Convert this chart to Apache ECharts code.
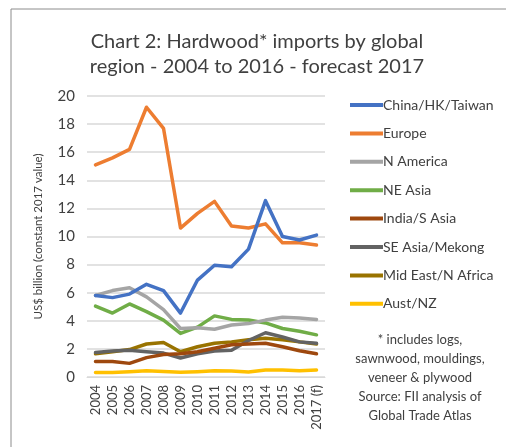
<!DOCTYPE html>
<html><head><meta charset="utf-8">
<script src="https://cdn.jsdelivr.net/npm/echarts@6/dist/echarts.min.js"></script>
<style>html,body{margin:0;padding:0;background:#fff}#c{width:506px;height:447px}</style>
</head><body><div id="c"></div>
<script>
var years = ['2004','2005','2006','2007','2008','2009','2010','2011','2012','2013','2014','2015','2016','2017 (f)'];
var china    = [5.8,5.65,5.9,6.6,6.15,4.55,6.9,7.95,7.85,9.1,12.55,10.0,9.75,10.1];
var europe   = [15.1,15.6,16.2,19.2,17.7,10.6,11.65,12.5,10.75,10.6,10.9,9.55,9.55,9.4];
var namerica = [5.8,6.15,6.35,5.7,4.8,3.45,3.5,3.4,3.7,3.8,4.05,4.25,4.2,4.1];
var neasia   = [5.05,4.55,5.2,4.65,4.05,3.1,3.55,4.35,4.1,4.05,3.85,3.45,3.25,3.0];
var india    = [1.1,1.1,0.97,1.38,1.6,1.65,1.8,2.05,2.3,2.35,2.4,2.15,1.87,1.65];
var seasia   = [1.75,1.85,1.9,1.8,1.7,1.35,1.65,1.85,1.9,2.6,3.15,2.85,2.5,2.4];
var mideast  = [1.65,1.8,1.95,2.35,2.45,1.8,2.15,2.4,2.5,2.65,2.75,2.65,2.5,2.35];
var austnz   = [0.32,0.32,0.38,0.45,0.4,0.33,0.38,0.45,0.42,0.35,0.5,0.5,0.45,0.5];
var yTicks = [0,2,4,6,8,10,12,14,16,18,20];
var seriesNames = ['China/HK/Taiwan','Europe','N America','NE Asia','India/S Asia','SE Asia/Mekong','Mid East/N Africa','Aust/NZ'];
var seriesData = [china,europe,namerica,neasia,india,seasia,mideast,austnz];
var colors = ['#4472C4','#ED7D31','#A5A5A5','#70AD47','#9E480E','#636363','#997300','#FFC000'];
var noteLines = ['* includes logs,','sawnwood, mouldings,','veneer & plywood','Source: FII analysis of','Global Trade Atlas'];
var FONT = 'Lato, "Liberation Sans", sans-serif';

var chart = echarts.init(document.getElementById('c'));
chart.setOption({
  animation:false,
  color: colors,
  textStyle:{fontFamily:FONT},
  grid:{left:87, right:181, top:96, bottom:70},
  xAxis:{type:'category', data:years, boundaryGap:true,
    axisLine:{lineStyle:{color:'#d9d9d9', width:1}}, axisTick:{show:false},
    axisLabel:{rotate:90, fontSize:13, color:'#404040', margin:8, interval:0, fontFamily:FONT}},
  yAxis:{type:'value', min:yTicks[0], max:yTicks[yTicks.length-1], interval:2,
    name:'US$ billion (constant 2017 value)', nameLocation:'middle', nameRotate:90, nameGap:43,
    nameTextStyle:{fontSize:11.5, color:'#404040', fontFamily:FONT},
    axisLine:{show:false}, axisTick:{show:false},
    splitLine:{lineStyle:{color:'#d9d9d9', width:1.5}},
    axisLabel:{fontSize:15, color:'#404040', margin:12, fontFamily:FONT}},
  legend:{orient:'vertical', left:345, top:92, itemWidth:33, itemHeight:4, itemGap:12.4,
    icon:'rect', data:seriesNames,
    textStyle:{fontSize:14, color:'#404040', lineHeight:16, padding:[0,0,0,-5], fontFamily:FONT}},
  series: seriesNames.map(function(n,i){
    return {name:n, type:'line', data:seriesData[i], symbol:'none', z: 10-i,
      lineStyle:{width:3.5, color:colors[i], cap:'round', join:'round'}};
  }),
  graphic:[
    {type:'rect', shape:{x:11, y:9, width:600, height:600}, style:{fill:'none', stroke:'#8c8c8c', lineWidth:1}, silent:true},
    {type:'text', x:257, y:42, style:{text:'Chart 2: Hardwood* imports by global', font:'20px '+FONT, fill:'#404040', textAlign:'center', textVerticalAlign:'middle'}},
    {type:'text', x:257, y:67, style:{text:'region - 2004 to 2016 - forecast 2017', font:'20px '+FONT, fill:'#404040', textAlign:'center', textVerticalAlign:'middle'}},
    {type:'text', x:420, y:330, style:{text:noteLines.join('\n'), font:'13px '+FONT, lineHeight:19, fill:'#404040', textAlign:'center'}}
  ]
});
</script></body></html>
